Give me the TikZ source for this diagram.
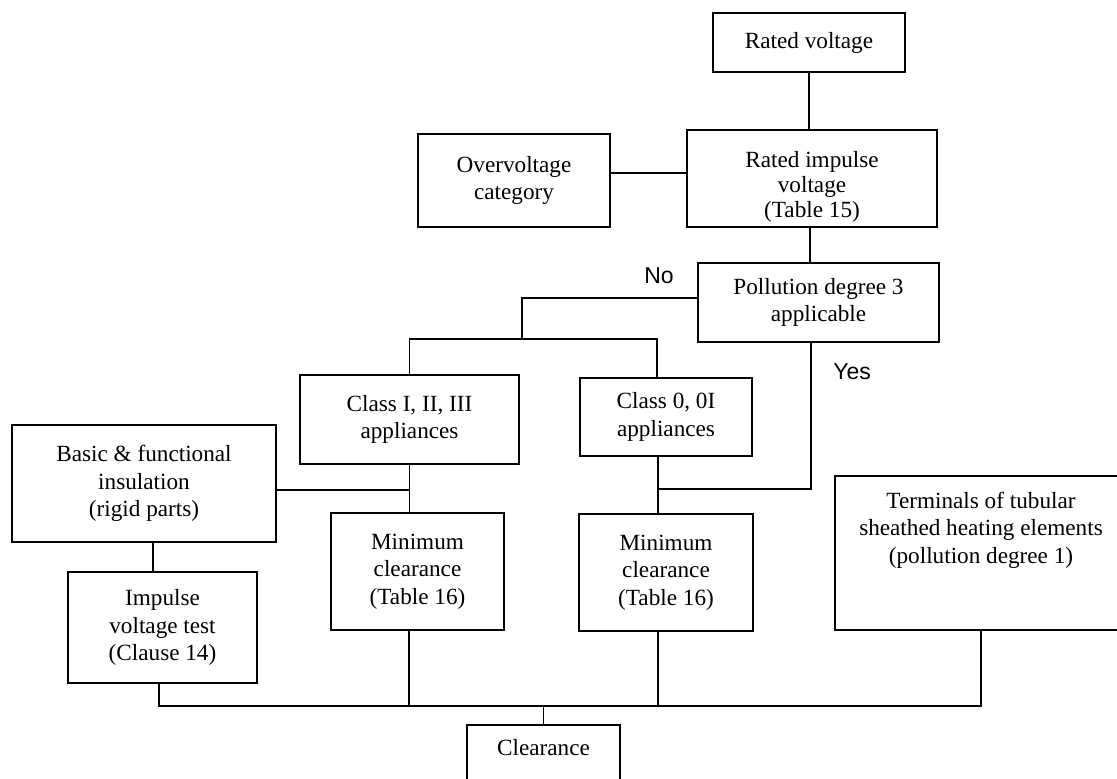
\documentclass[tikz,border=0pt]{standalone}
\usepackage{fontspec}
\setmainfont{Liberation Serif}
\newfontfamily\lblfont{Liberation Sans}
\begin{document}
\begin{tikzpicture}[x=0.5pt,y=-0.5pt,
  box/.style={draw, line width=0.9pt, align=center, inner sep=0pt,
    font=\fontsize{11.6pt}{13.75pt}\selectfont},
  txt/.style={align=center, inner sep=0pt, font=\fontsize{11.6pt}{13.75pt}\selectfont},
  lbl/.style={inner sep=0pt, font=\lblfont\fontsize{11.5pt}{13pt}\selectfont},
  conn/.style={draw, line width=0.9pt}]
\useasboundingbox (0,0) rectangle (1117,778);
\clip (0,0) rectangle (1117,778);
\fill[white] (0,0) rectangle (1117,778);

\node[box, minimum width=96pt, minimum height=29.5pt] (rv) at (809,42.5) {Rated voltage};
\node[box, minimum width=125pt, minimum height=48.5pt] (riv) at (812,178.5) {};
\node[txt, font=\fontsize{11.6pt}{12.6pt}\selectfont] (rivtext) at (812,187) {Rated impulse\\voltage\\(Table 15)};
\node[box, minimum width=96pt, minimum height=46.5pt] (ovc) at (514,180.5) {Overvoltage\\category};
\node[box, minimum width=120.5pt, minimum height=39.5pt] (pd) at (818.5,302.5) {Pollution degree 3\\applicable};
\node[box, minimum width=109.5pt, minimum height=44.5pt] (c1) at (409.5,419.5) {Class I, II, III\\appliances};
\node[box, minimum width=86pt, minimum height=39pt] (c0) at (666,417) {Class 0, 0I\\appliances};
\node[box, minimum width=132pt, minimum height=58.5pt] (bf) at (144,483.5) {Basic \& functional\\insulation\\(rigid parts)};
\node[box, minimum width=94.5pt, minimum height=55.5pt] (iv) at (162.5,627.5) {Impulse\\voltage test\\(Clause 14)};
\node[box, minimum width=86.5pt, minimum height=58.5pt] (mc1) at (417.5,571.5) {Minimum\\clearance\\(Table 16)};
\node[box, minimum width=87pt, minimum height=58.5pt] (mc2) at (666,572.5) {Minimum\\clearance\\(Table 16)};
\node[box, minimum width=146pt, minimum height=77pt] (term) at (981,553) {};
\node[txt] (termtext) at (981,530) {Terminals of tubular\\sheathed heating elements\\(pollution degree 1)};
\node[box, minimum width=76.5pt, minimum height=37.5pt] (cl) at (543.5,762.5) {};
\node[txt] (cltext) at (543.5,748) {Clearance};

\node[lbl] (no) at (659,276) {No};
\node[lbl] (yes) at (852,372) {Yes};

\coordinate (j1) at (522,298);
\coordinate (j2) at (522,339);
\coordinate (yj) at (658,489);
\coordinate (bj) at (409.5,490);
\coordinate (bus) at (543.5,706);

\path[conn] (rv.south) -- (rv.south |- riv.north);
\path[conn] ([yshift=3.75pt]ovc.east) -- ([yshift=3.75pt]ovc.east -| riv.west);
\path[conn] ([xshift=-1pt]riv.south) -- ([xshift=-1pt]riv.south |- pd.north);
\path[conn] ([yshift=2.25pt]pd.west) -- (j1) -- (j2);
\path[conn] (c1.north) |- (j2) -| ([xshift=-4.5pt]c0.north);
\path[conn] ([xshift=-4pt]c0.south) -- ([xshift=-4pt]mc2.north);
\path[conn] ([xshift=-3.75pt]pd.south) |- (yj);
\path[conn] (c1.south) -- (c1.south |- mc1.north);
\path[conn] ([yshift=-3.25pt]bf.east) -- (bj);
\path[conn] ([xshift=4.5pt]bf.south) -- ([xshift=4.5pt]bf.south |- iv.north);
\path[conn] ([xshift=-1.75pt]iv.south) |- (bus) -| (term.south);
\path[conn] ([xshift=-4.25pt]mc1.south) -- ([xshift=-4.25pt]mc1.south |- bus);
\path[conn] ([xshift=-4pt]mc2.south) -- ([xshift=-4pt]mc2.south |- bus);
\path[conn] (bus) -- (cl.north);
\end{tikzpicture}
\end{document}
